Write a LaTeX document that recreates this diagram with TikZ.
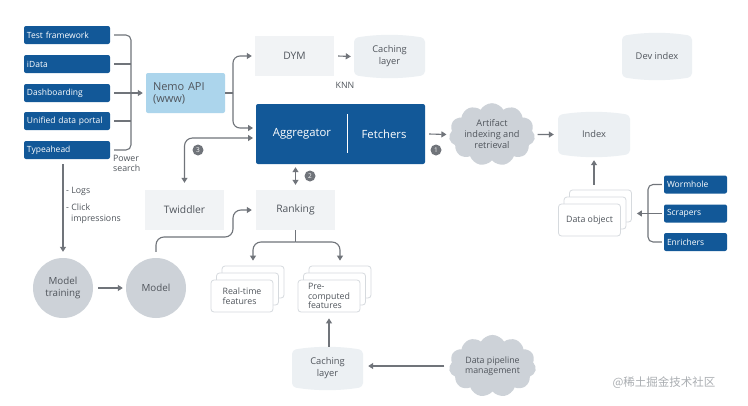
\documentclass[tikz,border=0pt]{standalone}
\usepackage{fontspec}
\setmainfont{Open Sans}
\newfontfamily\cjk{Noto Sans CJK SC}
\usetikzlibrary{arrows.meta,shapes.symbols,calc}
\definecolor{dblue}{RGB}{18,88,152}
\definecolor{lblue}{RGB}{172,213,236}
\definecolor{lgray}{RGB}{241,243,245}
\definecolor{pgray}{RGB}{236,240,243}
\definecolor{cgray}{RGB}{205,210,216}
\definecolor{lncol}{RGB}{112,116,122}
\definecolor{txt}{RGB}{80,85,92}
\definecolor{cardline}{RGB}{214,218,222}
\definecolor{wmark}{RGB}{170,174,178}
\tikzset{
  bluebox/.style={fill=dblue, text=white, rounded corners=2, minimum height=18, text width=80, align=left, inner xsep=3, inner ysep=0, font=\fontsize{8.5}{10}\selectfont},
  graybox/.style={fill=lgray, text=txt, minimum width=79, minimum height=40, font=\fontsize{10.3}{12}\selectfont},
  pilltext/.style={text=txt, inner sep=0, align=center, font=\fontsize{9.3}{12}\selectfont},
  card/.style={draw=cardline, fill=white, rounded corners=3, minimum width=62, minimum height=32, line width=0.8, text=txt, align=left, inner sep=2, font=\fontsize{8.8}{9.8}\selectfont},
  cloudnode/.style={cloud, cloud puffs=11, cloud puff arc=120, aspect=1.5, fill=cgray, text=txt, inner sep=0, align=center, font=\fontsize{9.2}{11}\selectfont},
  circnode/.style={circle, fill=cgray, text=txt, minimum size=60, inner sep=0, align=center, font=\fontsize{9.8}{11.5}\selectfont},
  lbl/.style={text=txt, inner sep=0, align=left, font=\fontsize{8.8}{10.5}\selectfont},
  stepnum/.style={circle, fill=lncol, text=white, inner sep=0, minimum size=11, font=\fontsize{6.5}{7}\selectfont},
  line/.style={draw=lncol, line width=1.1},
  arr/.style={draw=lncol, line width=1.1, -{Triangle[length=5pt,width=6pt]}},
  dblarr/.style={draw=lncol, line width=1.1, {Triangle[length=5pt,width=6pt]}-{Triangle[length=5pt,width=6pt]}}
}
\newcommand\pillow[6]{%
  \fill[pgray, rounded corners=4] ({#2-#4/2},{#3-#5/2+3}) .. controls ({#2-#4/6},{#3-#5/2-1}) and ({#2+#4/6},{#3-#5/2-1}) .. ({#2+#4/2},{#3-#5/2+3})
    -- ({#2+#4/2},{#3+#5/2-3}) .. controls ({#2+#4/6},{#3+#5/2+1}) and ({#2-#4/6},{#3+#5/2+1}) .. ({#2-#4/2},{#3+#5/2-3}) -- cycle;
  \node[pilltext, minimum width=#4, minimum height=#5-6] (#1) at (#2,#3) {#6};}
\newcommand\cardstack[4]{%
  \node[card] (#13) at ({#2+11},{#3-14}) {};
  \node[card] (#12) at ({#2+5.5},{#3-7}) {};
  \node[card] (#11) at (#2,#3) {#4};}
\begin{document}
\begin{tikzpicture}[x=1pt,y=-1pt]
\fill[white] (0,0) rectangle (748,405);
\useasboundingbox (0,0) rectangle (748,405);

% left blue boxes
\node[bluebox] (tf) at (67,35) {\mbox{Test framework}};
\node[bluebox] (id) at (67,64) {\mbox{iData}};
\node[bluebox] (db) at (67,93) {\mbox{Dashboarding}};
\node[bluebox] (ud) at (67,121) {\mbox{Unified data portal}};
\node[bluebox] (ta) at (67,150) {\mbox{Typeahead}};

% Nemo API
\node[fill=lblue, text=txt, rounded corners=2, minimum width=79, minimum height=40, text width=65, align=left, inner xsep=7, font=\fontsize{11}{12}\selectfont] (nemo) at (185.5,93) {Nemo API\\(www)};

% bracket
\coordinate (brtop) at (131,35);
\coordinate (brbot) at (131,150);
\draw[line, rounded corners=5] ([xshift=4pt]tf.east) -- (brtop) -- (brbot) -- ([xshift=4pt]ta.east);
\draw[line] ([xshift=4pt]id.east) -- (id.east -| brtop);
\draw[line] ([xshift=4pt]ud.east) -- (ud.east -| brtop);
\draw[arr] ([xshift=4pt]db.east) -- ([xshift=-3pt]nemo.west);
\node[lbl, anchor=north west] (ps) at (113,155) {Power\\search};

% DYM and caching
\node[graybox] (dym) at (294.5,56) {DYM};
\pillow{cacheA}{389.5}{56.5}{71}{43}{Caching\\layer}
\draw[arr] ([xshift=4pt]dym.east) -- ([xshift=-3pt]cacheA.west);
\node[lbl] (knn) at (345,85) {KNN};

% Aggregator
\node[fill=dblue, rounded corners=2, minimum width=169, minimum height=60] (agg) at (340.5,134) {};
\node[text=white, inner sep=0, font=\fontsize{11.3}{13}\selectfont] (aggt) at (302,134) {Aggregator};
\node[text=white, inner sep=0, font=\fontsize{11.3}{13}\selectfont] (fet) at (384,134) {Fetchers};
\draw[white, line width=1] ([xshift=6.5pt,yshift=-10pt]agg.north) -- ([xshift=6.5pt,yshift=11pt]agg.south);

% Nemo branches
\coordinate (nbr) at (233,93);
\coordinate (aggin1) at (253,128);
\coordinate (aggin2) at (253,138);
\draw[line] (nemo.east) -- (nbr);
\draw[arr, rounded corners=7] (nbr) |- ([xshift=-3pt]dym.west);
\draw[arr, rounded corners=7] (nbr) |- (aggin1);

% Artifact and index
\node[cloudnode, minimum width=86, minimum height=57] (art) at (492,134.5) {Artifact\\indexing and\\retrieval};
\draw[arr] ([xshift=4pt]agg.east) -- ([xshift=-3pt]art.west);
\node[stepnum] (s1) at (436,150) {1};
\pillow{index}{594}{134.5}{72}{45}{Index}
\draw[arr] ([xshift=3pt]art.east) -- ([xshift=-4pt]index.west);
\pillow{devidx}{657}{56.5}{70}{47}{Dev index}

% Data object and sources
\cardstack{do}{589.5}{220}{Data object}
\draw[arr] ([yshift=5pt]do3.north -| index.south) -- ([yshift=-6pt]index.south);
\node[bluebox, text width=57] (worm) at (695.5,184.5) {\mbox{Wormhole}};
\node[bluebox, text width=57] (scr) at (695.5,213.5) {\mbox{Scrapers}};
\node[bluebox, text width=57] (enr) at (695.5,242) {\mbox{Enrichers}};
\coordinate (rbtop) at (648,184.5);
\coordinate (rbbot) at (648,242);
\draw[line, rounded corners=5] ([xshift=-2pt]worm.west) -- (rbtop) -- (rbbot) -- ([xshift=-2pt]enr.west);
\draw[arr] ([xshift=-2pt]scr.west) -- ([xshift=5pt]do3.east |- scr.west);

% Twiddler / Ranking
\node[graybox] (tw) at (184.5,210) {Twiddler};
\node[graybox] (rank) at (295.5,210) {Ranking};
\draw[dblarr] ([yshift=-3pt]rank.north |- agg.south) -- ([yshift=5pt]rank.north);
\node[stepnum] (s2) at (310,176) {2};
\draw[dblarr, rounded corners=8] ([yshift=7pt]tw.north) |- (aggin2);
\node[stepnum] (s3) at (198,150) {3};

% Logs and models
\node[circnode] (mt) at (63,288) {Model\\training};
\node[circnode] (model) at (156,288) {Model};
\draw[arr] ([yshift=-5pt]mt.north |- ta.south) -- ([yshift=6pt]mt.north);
\node[lbl, anchor=north west] (logs) at (66,187) {- Logs\\[7pt]- Click\\\hspace*{5pt}impressions};
\draw[arr] ([xshift=5pt]mt.east) -- ([xshift=-3pt]model.west);
\coordinate (mr1) at (233,237);
\draw[arr, rounded corners=8] ([yshift=6pt]model.north) |- (mr1) |- ([xshift=-4pt]rank.west);

% Features
\cardstack{rt}{242}{296}{Real-time\\features}
\cardstack{pc}{329}{296}{Pre-\\computed\\features}
\coordinate (fork) at (295.5,242);
\draw[line] (rank.south) -- (fork);
\draw[arr, rounded corners=8] (fork) -| ([yshift=5pt]rt3.north);
\draw[arr, rounded corners=8] (fork) -| ([yshift=5pt]pc3.north);

% Caching bottom and data pipeline
\pillow{cacheB}{327.5}{368.5}{71}{43}{Caching\\layer}
\draw[arr] ([yshift=3pt]cacheB.north -| pc1.south) -- ([yshift=-6pt]pc1.south);
\node[cloudnode, minimum width=87, minimum height=58, font=\fontsize{8.8}{10.5}\selectfont] (dp) at (492.5,366) {Data pipeline\\management};
\draw[arr] ([xshift=-5pt]dp.west) -- ([xshift=5pt]cacheB.east |- dp.west);

% watermark
\node[text=wmark, inner sep=0, font=\cjk\fontsize{11.5}{13}\selectfont] (wm) at (664,383) {@稀土掘金技术社区};
\end{tikzpicture}
\end{document}
